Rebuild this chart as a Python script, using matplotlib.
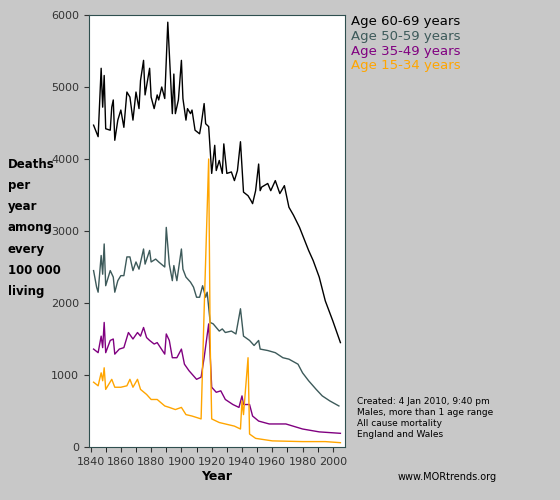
import matplotlib
matplotlib.use('Agg')
import matplotlib.pyplot as plt

# Age 60-69
yr_60 = [1842, 1845, 1847, 1848, 1849, 1850, 1853, 1854, 1855, 1856, 1858, 1860, 1862, 1864, 1866, 1868,
         1870, 1872, 1873, 1875, 1876, 1879, 1880, 1882, 1884, 1885, 1887, 1889, 1891, 1894, 1895, 1896,
         1898, 1900, 1901, 1903, 1904, 1906, 1907, 1909, 1912, 1913, 1915, 1916, 1918, 1920, 1922, 1923,
         1925, 1927, 1928, 1930, 1933, 1935, 1937, 1939, 1941, 1944, 1946, 1947, 1949, 1951, 1952, 1953,
         1957, 1959, 1962, 1965, 1968, 1971, 1974, 1978, 1981, 1984, 1987, 1991, 1995, 2000, 2005]
v_60 = [4470, 4310, 5260, 4720, 5160, 4420, 4400, 4720, 4820, 4260, 4540, 4680, 4440, 4930, 4860, 4540,
        4930, 4700, 5090, 5370, 4890, 5260, 4860, 4700, 4890, 4820, 5000, 4840, 5900, 4630, 5180, 4630,
        4820, 5370, 4840, 4540, 4700, 4630, 4680, 4400, 4350, 4470, 4770, 4490, 4450, 3800, 4190, 3840,
        3980, 3800, 4210, 3800, 3820, 3700, 3840, 4240, 3540, 3490, 3420, 3380, 3560, 3930, 3560, 3610,
        3660, 3560, 3700, 3520, 3630, 3330, 3220, 3050, 2890, 2730, 2590, 2360, 2030, 1750, 1450]

# Age 50-59
yr_50 = [1842, 1844, 1845, 1847, 1848, 1849, 1850, 1853, 1855, 1856, 1858, 1860, 1862, 1864, 1866, 1868,
         1870, 1872, 1875, 1876, 1879, 1880, 1883, 1885, 1889, 1890, 1892, 1894, 1895, 1897, 1900, 1901,
         1903, 1906, 1908, 1910, 1912, 1914, 1916, 1917, 1919, 1921, 1923, 1925, 1927, 1929, 1933, 1936,
         1939, 1941, 1945, 1948, 1951, 1952, 1957, 1962, 1967, 1971, 1977, 1980, 1984, 1989, 1993, 1998, 2004]
v_50 = [2450, 2220, 2150, 2660, 2400, 2820, 2240, 2450, 2360, 2150, 2310, 2380, 2380, 2640, 2640, 2450,
        2570, 2470, 2750, 2540, 2730, 2570, 2610, 2570, 2500, 3050, 2540, 2310, 2520, 2310, 2750, 2470,
        2360, 2290, 2220, 2080, 2080, 2240, 2080, 2150, 1730, 1710, 1660, 1610, 1640, 1590, 1610, 1570,
        1920, 1540, 1480, 1410, 1480, 1360, 1340, 1310, 1240, 1220, 1150, 1030, 920, 800, 710, 640, 570]

# Age 35-49
yr_35 = [1842, 1845, 1847, 1848, 1849, 1850, 1853, 1855, 1856, 1859, 1862, 1865, 1868, 1871, 1873, 1875,
         1877, 1879, 1882, 1884, 1889, 1890, 1892, 1894, 1897, 1900, 1902, 1905, 1910, 1913, 1915, 1918,
         1920, 1923, 1926, 1929, 1934, 1938, 1940, 1941, 1945, 1947, 1951, 1958, 1969, 1980, 1991, 2005]
v_35 = [1360, 1310, 1540, 1380, 1730, 1310, 1480, 1500, 1290, 1360, 1380, 1590, 1500, 1590, 1540, 1660,
        1520, 1480, 1430, 1450, 1290, 1570, 1480, 1240, 1240, 1360, 1150, 1060, 940, 970, 1240, 1710,
        830, 760, 780, 660, 590, 550, 710, 590, 590, 430, 360, 320, 320, 250, 210, 190]

# Age 15-34
yr_15 = [1842, 1845, 1847, 1848, 1849, 1850, 1854, 1856, 1860, 1864, 1866, 1868, 1871, 1873, 1877, 1880,
         1884, 1889, 1892, 1896, 1900, 1903, 1907, 1913, 1915, 1918, 1919, 1920, 1925, 1929, 1935, 1939,
         1940, 1941, 1944, 1945, 1949, 1960, 1980, 1995, 2005]
v_15 = [900, 850, 1030, 920, 1100, 800, 940, 830, 830, 850, 940, 830, 940, 800, 730, 660,
        660, 570, 550, 520, 550, 450, 430, 390, 1890, 4000, 1430, 390, 340, 320, 290, 250,
        640, 450, 1240, 180, 120, 85, 75, 75, 60]

series = [
    ('Age 60-69 years', yr_60, v_60, 'black'),
    ('Age 50-59 years', yr_50, v_50, '#3d5a5a'),
    ('Age 35-49 years', yr_35, v_35, '#800080'),
    ('Age 15-34 years', yr_15, v_15, 'orange'),
]

BG = '#c8c8c8'
fig = plt.figure(figsize=(5.6, 5.0), dpi=100, facecolor=BG)
ax = fig.add_axes([0.159, 0.106, 0.457, 0.864])

for name, x, y, c in series:
    ax.plot(x, y, color=c, linewidth=1)

ax.set_xlim(1839, 2008)
ax.set_ylim(0, 6000)
ax.set_xticks(range(1840, 2001, 20))
ax.set_xticks(range(1840, 2008, 10), minor=True)
ax.set_yticks(range(0, 6001, 1000))
ax.tick_params(labelsize=8, colors='#333333', direction='out')
ax.tick_params(which='minor', length=3.5)
for s in ax.spines.values():
    s.set_color('#2f4f4f')
ax.set_xlabel('Year', fontsize=9, fontweight='bold', labelpad=2)

# etiqueta vertical en línies separades
ylabel_lines = ['Deaths', 'per', 'year', 'among', 'every', '100 000', 'living']
for i, line in enumerate(ylabel_lines):
    fig.text(0.014, 0.67 - i * 0.042, line, fontsize=8.5, fontweight='bold', va='center', ha='left')

for i, (name, x, y, c) in enumerate(series):
    fig.text(0.627, 0.957 - i * 0.0295, name, color=c, fontsize=9.5, va='center')

fig.text(0.638, 0.205, 'Created: 4 Jan 2010, 9:40 pm\nMales, more than 1 age range\n'
         'All cause mortality\nEngland and Wales', fontsize=6.5, va='top', linespacing=1.25)
fig.text(0.71, 0.045, 'www.MORtrends.org', fontsize=7, va='center')

plt.savefig('out.png', dpi=100, facecolor=BG)
